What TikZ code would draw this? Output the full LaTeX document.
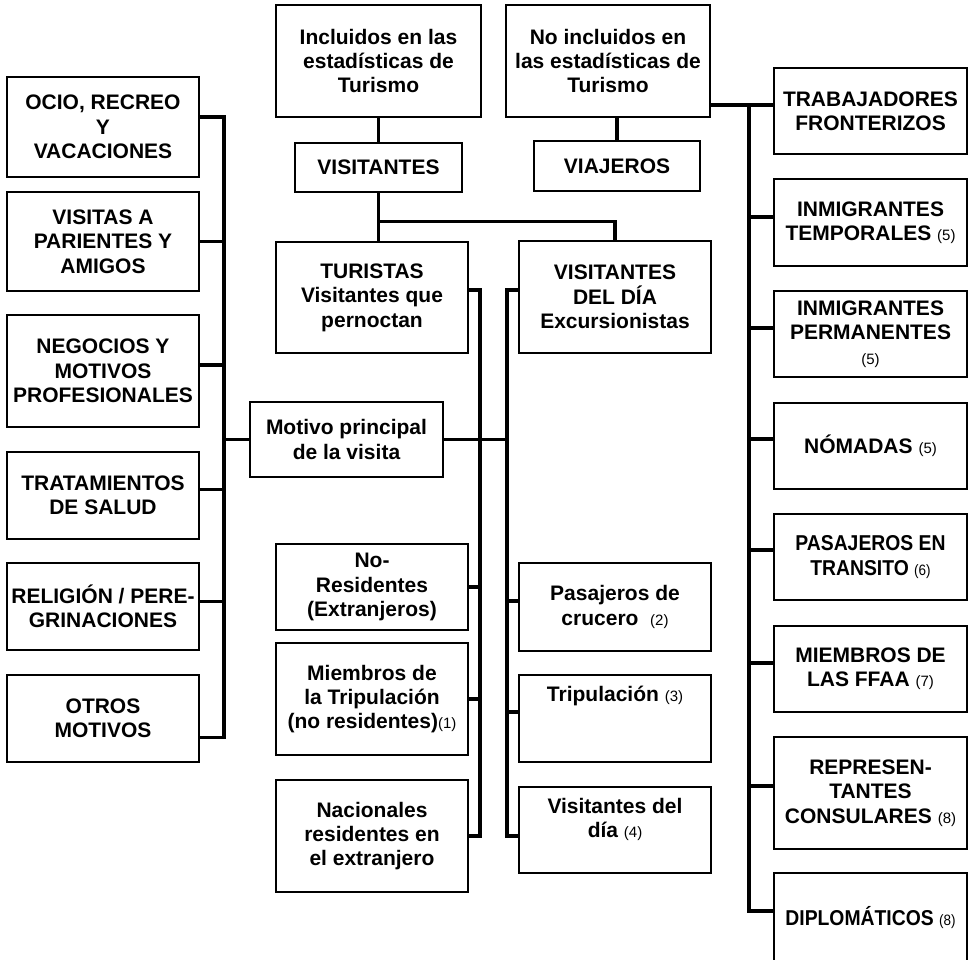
\documentclass[tikz,border=0pt]{standalone}
\usepackage{fontspec}
\setmainfont{Liberation Sans}
\newfontfamily\estrecha[FakeStretch=0.9]{Liberation Sans}
\newcommand{\nota}[1]{{\fontsize{15}{17}\selectfont\mdseries(#1)}}
\tikzset{
  caja/.style={draw, line width=1.8pt, inner sep=0pt, align=center,
    minimum width=192pt, font=\bfseries\fontsize{21}{24.4}\selectfont},
  cajaestrecha/.style={caja, font=\estrecha\bfseries\fontsize{21.5}{24.4}\selectfont},
  conector/.style={line width=3.2pt},
}
\begin{document}
\begin{tikzpicture}[x=1pt,y=-1pt]
  \clip (0,0) rectangle (971,959);

  % motivos
  \node[caja, minimum height=100pt] (ocio) at (103,127) {OCIO, RECREO\\Y\\VACACIONES};
  \node[caja, minimum height=99pt] (visitas) at (103,241.5) {VISITAS A\\PARIENTES Y\\AMIGOS};
  \node[caja, minimum height=112pt] (negocios) at (103,371) {NEGOCIOS Y\\MOTIVOS\\PROFESIONALES};
  \node[caja, minimum height=87pt] (tratam) at (103,495.5) {TRATAMIENTOS\\DE SALUD};
  \node[caja, minimum height=87pt] (religion) at (103,606.5) {RELIGIÓN / PERE-\\GRINACIONES};
  \node[caja, minimum height=87pt] (otros) at (103,718.5) {OTROS\\MOTIVOS};

  % cabecera
  \node[caja, minimum width=205pt, minimum height=112pt] (incl) at (378.5,61) {Incluidos en las\\estadísticas de\\Turismo};
  \node[caja, minimum width=167pt, minimum height=49pt] (visit) at (378.5,167.5) {VISITANTES};
  \node[caja, minimum width=204pt, minimum height=112pt] (noinc) at (608,61) {No incluidos en\\las estadísticas de\\Turismo};
  \node[caja, minimum width=166pt, minimum height=50pt] (viaj) at (617,166) {VIAJEROS};

  % visitantes
  \node[caja, minimum height=111pt] (turistas) at (372,297.5) {TURISTAS\\Visitantes que\\pernoctan};
  \node[caja, minimum height=112pt] (deldia) at (615,297) {VISITANTES\\DEL DÍA\\Excursionistas};
  \node[caja, minimum width=193pt, minimum height=75pt] (motivo) at (346.5,439.5) {Motivo principal\\de la visita};

  \node[caja, minimum height=86pt] (nores) at (372,587) {No-\\Residentes\\(Extranjeros)};
  \node[caja, minimum height=112pt] (miemb) at (372,699) {Miembros de\\la Tripulación\\(no residentes)\nota{1}};
  \node[caja, minimum height=112pt] (nacion) at (372,836) {Nacionales\\residentes en\\el extranjero};

  \node[caja, minimum height=88pt] (crucero) at (615,607) {Pasajeros de\\crucero\ \ \nota{2}};
  \node[caja, minimum height=87pt] (tripul) at (615,718.5) {Tripulación \nota{3}\\\mbox{}\\\mbox{}};
  \node[caja, minimum height=86pt] (visdia) at (615,830) {Visitantes del\\día \nota{4}\\\mbox{}};

  % viajeros no visitantes
  \node[caja, minimum width=193pt, minimum height=86pt] (trab) at (870.5,111) {TRABAJADORES\\FRONTERIZOS};
  \node[caja, minimum width=193pt, minimum height=87pt] (temp) at (870.5,222.5) {INMIGRANTES\\TEMPORALES \nota{5}};
  \node[caja, minimum width=193pt, minimum height=86pt] (perm) at (870.5,334) {INMIGRANTES\\PERMANENTES\\\nota{5}};
  \node[caja, minimum width=193pt, minimum height=86pt] (nomad) at (870.5,446) {NÓMADAS \nota{5}};
  \node[cajaestrecha, minimum width=193pt, minimum height=86pt] (pasaj) at (870.5,557) {PASAJEROS EN\\TRANSITO \nota{6}};
  \node[caja, minimum width=193pt, minimum height=86pt] (ffaa) at (870.5,669) {MIEMBROS DE\\LAS FFAA \nota{7}};
  \node[caja, minimum width=193pt, minimum height=112pt] (repres) at (870.5,793) {REPRESEN-\\TANTES\\CONSULARES \nota{8}};
  \node[cajaestrecha, minimum width=193pt, minimum height=90pt] (diplo) at (870.5,918) {DIPLOMÁTICOS \nota{8}};

  \coordinate (busizq) at (224,439.5);
  \coordinate (busmed) at (480,439.5);
  \coordinate (busder) at (507,439.5);
  \coordinate (busext) at (749,500);

  % conectores
  \draw[conector] (incl.south) -- (visit.north);
  \draw[conector] (visit.south) -- (visit.south |- turistas.north);
  \draw[conector] (visit.south) |- ([yshift=19pt]deldia.north) -- (deldia.north);
  \draw[conector] (noinc.south -| viaj.north) -- (viaj.north);

  \draw[conector] ([yshift=10pt]ocio.east) -| (busizq) |- ([yshift=-19pt]otros.east);
  \foreach \n/\d in {visitas/0, negocios/6, tratam/6, religion/5}
    \draw[conector] ([yshift=\d pt]\n.east) -| (busizq);
  \draw[conector] (motivo.west) -- (busizq);

  \draw[conector] ([yshift=7.5pt]turistas.east) -| (busmed) |- (nacion.east);
  \foreach \n in {nores, miemb}
    \draw[conector] (\n.east) -| (busmed);
  \draw[conector] (motivo.east) -- (busder);

  \draw[conector] ([yshift=7pt]deldia.west) -| (busder) |- ([yshift=-6pt]visdia.west);
  \foreach \n/\d in {crucero/6, tripul/6.5}
    \draw[conector] ([yshift=\d pt]\n.west) -| (busder);

  \draw[conector] ([yshift=-44pt]noinc.east) -| (busext) |- ([yshift=7pt]diplo.west);
  \foreach \n/\d in {trab/6, temp/5.5, perm/6, nomad/7, pasaj/7, ffaa/6, repres/7}
    \draw[conector] ([yshift=\d pt]\n.west) -| (busext);
\end{tikzpicture}
\end{document}
